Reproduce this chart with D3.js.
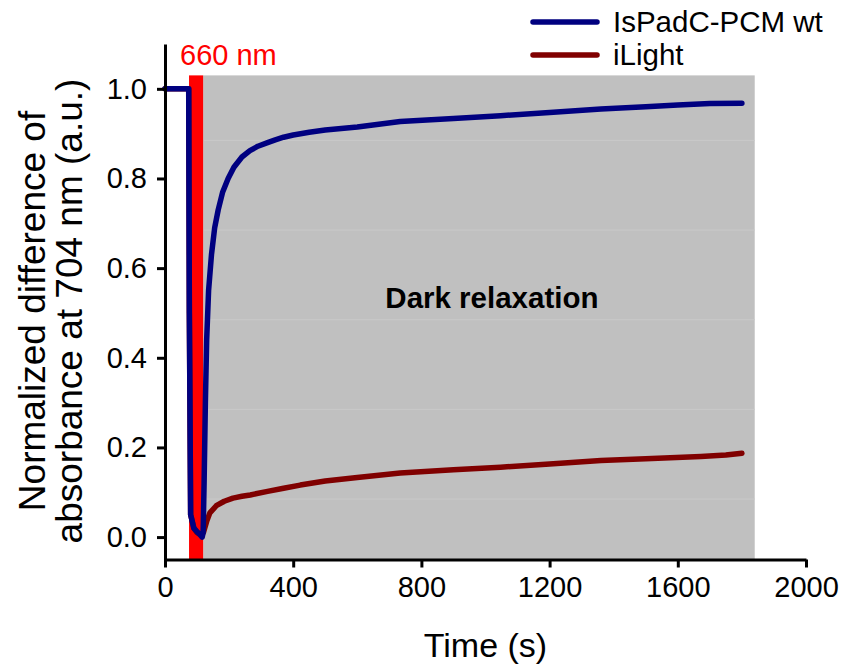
<!DOCTYPE html>
<html>
<head>
<meta charset="utf-8">
<script src="https://cdn.jsdelivr.net/npm/d3@7"></script>
<style>
  body { margin: 0; background: #fff; }
  text { font-family: "Liberation Sans", Arial, sans-serif; }
</style>
</head>
<body>
<div id="chart"></div>
<script>
// blue trace: IsPadC-PCM wt
var wtTime = [0, 40, 74, 76, 80, 90, 100, 110, 116, 119, 122, 126, 130, 136, 145, 155, 166, 180, 197, 215, 240, 265, 290, 320, 344, 370, 400, 450, 500, 600, 734, 900, 1047, 1200, 1360, 1500, 1600, 1700, 1800];
var wtValue = [1.0, 1.0, 1.0, 0.5, 0.05, 0.02, 0.012, 0.005, 0.0, 0.01, 0.12, 0.3, 0.44, 0.55, 0.63, 0.69, 0.73, 0.77, 0.8, 0.825, 0.848, 0.862, 0.872, 0.88, 0.886, 0.892, 0.897, 0.903, 0.908, 0.915, 0.927, 0.934, 0.94, 0.947, 0.955, 0.96, 0.964, 0.967, 0.968];

// dark red trace: iLight
var ilTime = [0, 74, 76, 80, 90, 100, 110, 120, 130, 140, 160, 185, 212, 240, 266, 320, 370, 422, 500, 600, 734, 900, 1047, 1200, 1360, 1500, 1672, 1750, 1800];
var ilValue = [1.0, 1.0, 0.5, 0.05, 0.02, 0.01, 0.005, 0.01, 0.035, 0.054, 0.07, 0.08, 0.087, 0.091, 0.094, 0.102, 0.109, 0.116, 0.125, 0.133, 0.143, 0.15, 0.156, 0.163, 0.171, 0.175, 0.18, 0.183, 0.187];

var xTicks = [0, 400, 800, 1200, 1600, 2000];
var yTicks = [0.0, 0.2, 0.4, 0.6, 0.8, 1.0];
var shadeGrid = [0.085, 0.285, 0.485, 0.685, 0.885];

var lightOn = [75, 119];      // 660 nm illumination
var darkPeriod = [119, 1840]; // dark relaxation
var shadeTop = 1.03;

var seriesNames = ["IsPadC-PCM wt", "iLight"];
var seriesColors = ["#000080", "#800000"];

var width = 847, height = 669;

var x = d3.scaleLinear().domain([0, 2000]).range([165, 806]);
var y = d3.scaleLinear().domain([-0.05, 1.1]).range([559.5, 44]);

var svg = d3.select("#chart").append("svg")
    .attr("width", width)
    .attr("height", height);

// dark relaxation shading
svg.append("rect")
    .attr("x", x(darkPeriod[0]))
    .attr("y", y(shadeTop))
    .attr("width", x(darkPeriod[1]) - x(darkPeriod[0]))
    .attr("height", y(-0.05) - y(shadeTop))
    .style("fill", "#c0c0c0");

svg.append("g").selectAll("line")
    .data(shadeGrid)
  .enter().append("line")
    .attr("x1", x(darkPeriod[0]))
    .attr("x2", x(darkPeriod[1]))
    .attr("y1", function(d) { return y(d); })
    .attr("y2", function(d) { return y(d); })
    .style("stroke", "#c9c9c9")
    .style("stroke-width", 1);

// red light band
svg.append("rect")
    .attr("x", x(lightOn[0]))
    .attr("y", y(shadeTop))
    .attr("width", x(lightOn[1]) - x(lightOn[0]))
    .attr("height", y(-0.05) - y(shadeTop))
    .style("fill", "#ff0000");

svg.append("text")
    .attr("x", 180)
    .attr("y", 65)
    .style("font-size", "29px")
    .style("fill", "#ff0000")
    .text("660 nm");

svg.append("text")
    .attr("x", x(1020))
    .attr("y", 308)
    .attr("text-anchor", "middle")
    .style("font-size", "29.5px")
    .style("font-weight", "bold")
    .text("Dark relaxation");

var line = d3.line()
    .x(function(d) { return x(d[0]); })
    .y(function(d) { return y(d[1]); });

var series = [
  d3.zip(wtTime, wtValue),
  d3.zip(ilTime, ilValue)
];

// iLight first so the wt trace sits on top
[1, 0].forEach(function(i) {
  svg.append("path")
      .datum(series[i])
      .attr("d", line)
      .style("fill", "none")
      .style("stroke", seriesColors[i])
      .style("stroke-width", 5.5)
      .style("stroke-linejoin", "round")
      .style("stroke-linecap", "round");
});

// axes
var yAxis = svg.append("g")
    .attr("transform", "translate(" + x(0) + ",0)")
    .call(d3.axisLeft(y).tickValues(yTicks).tickFormat(d3.format(".1f"))
      .tickSize(8).tickSizeOuter(0).tickPadding(10));

var xAxis = svg.append("g")
    .attr("transform", "translate(0," + y(-0.05) + ")")
    .call(d3.axisBottom(x).tickValues(xTicks).tickFormat(d3.format("d"))
      .tickSize(8).tickSizeOuter(0).tickPadding(9));

[yAxis, xAxis].forEach(function(ax) {
  ax.select(".domain").style("stroke", "#000").style("stroke-width", 3);
  ax.selectAll(".tick line").style("stroke", "#000").style("stroke-width", 3);
  ax.selectAll(".tick text")
      .style("font-size", "29px")
      .style("font-family", "'Liberation Sans', Arial, sans-serif")
      .style("fill", "#000");
});

// axis titles
svg.append("text")
    .attr("x", x(1000))
    .attr("y", 657)
    .attr("text-anchor", "middle")
    .style("font-size", "34px")
    .text("Time (s)");

var yTitle = svg.append("text")
    .attr("transform", "translate(0,311) rotate(-90)")
    .attr("text-anchor", "middle")
    .style("font-size", "37px");
yTitle.append("tspan").attr("x", 0).attr("y", 45).text("Normalized difference of");
yTitle.append("tspan").attr("x", 0).attr("y", 82).text("absorbance at 704 nm (a.u.)");

// legend
var legend = svg.append("g").selectAll("g")
    .data(seriesNames)
  .enter().append("g")
    .attr("transform", function(d, i) { return "translate(0," + (22 + i * 33) + ")"; });

legend.append("line")
    .attr("x1", 533).attr("x2", 597)
    .attr("y1", 0).attr("y2", 0)
    .style("stroke", function(d, i) { return seriesColors[i]; })
    .style("stroke-width", 5.5)
    .style("stroke-linecap", "round");

legend.append("text")
    .attr("x", 613)
    .attr("y", 10)
    .style("font-size", "29.5px")
    .text(function(d) { return d; });
</script>
</body>
</html>
